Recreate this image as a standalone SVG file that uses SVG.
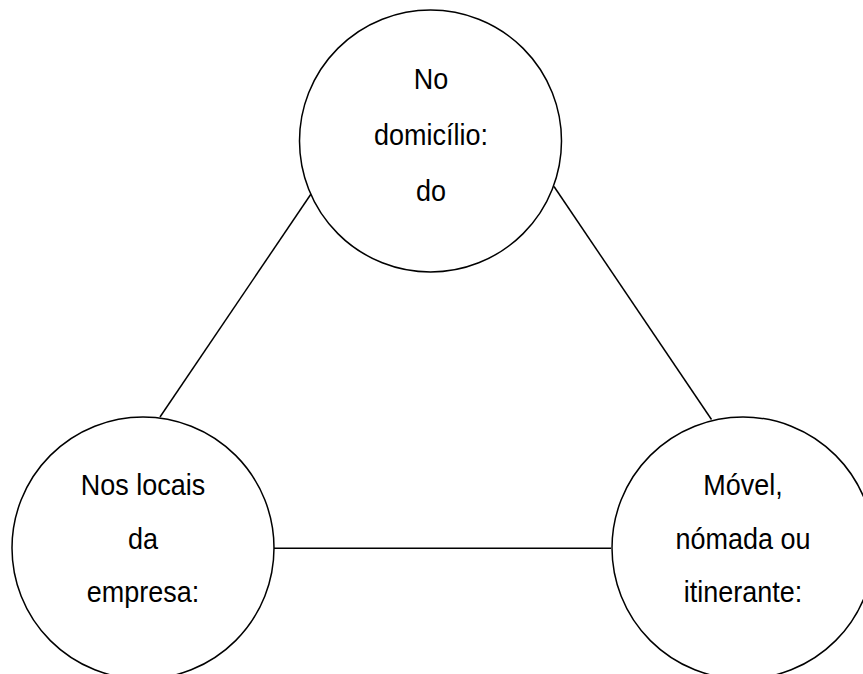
<svg xmlns="http://www.w3.org/2000/svg" width="863" height="674" viewBox="0 0 863 674">
<style>
.node{fill:#fff;stroke:#000;stroke-width:1.5}
.edge{stroke:#000;stroke-width:1.5;fill:none}
.lbl{font-family:"Liberation Sans",Arial,sans-serif;font-size:29px;fill:#000;text-anchor:middle}
</style>
<rect width="863" height="674" fill="#fff"/>
<g id="connectors">
<line class="edge" x1="311" y1="194" x2="160" y2="417"/>
<line class="edge" x1="554" y1="186.5" x2="711.5" y2="419.5"/>
<line class="edge" x1="274" y1="548.3" x2="611" y2="548.3"/>
</g>
<g id="node-domicilio">
<circle class="node" cx="430.5" cy="141" r="131"/>
<g transform="translate(431 0) scale(0.93 1)">
<text class="lbl" x="0" y="89">No</text>
<text class="lbl" x="0" y="145">domicílio:</text>
<text class="lbl" x="0" y="201">do</text>
</g>
</g>
<g id="node-empresa">
<circle class="node" cx="143" cy="548" r="131"/>
<g transform="translate(143 0) scale(0.93 1)">
<text class="lbl" x="0" y="495">Nos locais</text>
<text class="lbl" x="0" y="549">da</text>
<text class="lbl" x="0" y="602">empresa:</text>
</g>
</g>
<g id="node-movel">
<circle class="node" cx="743" cy="548" r="131"/>
<g transform="translate(743 0) scale(0.93 1)">
<text class="lbl" x="0" y="495">Móvel,</text>
<text class="lbl" x="0" y="549">nómada ou</text>
<text class="lbl" x="0" y="602">itinerante:</text>
</g>
</g>
</svg>
